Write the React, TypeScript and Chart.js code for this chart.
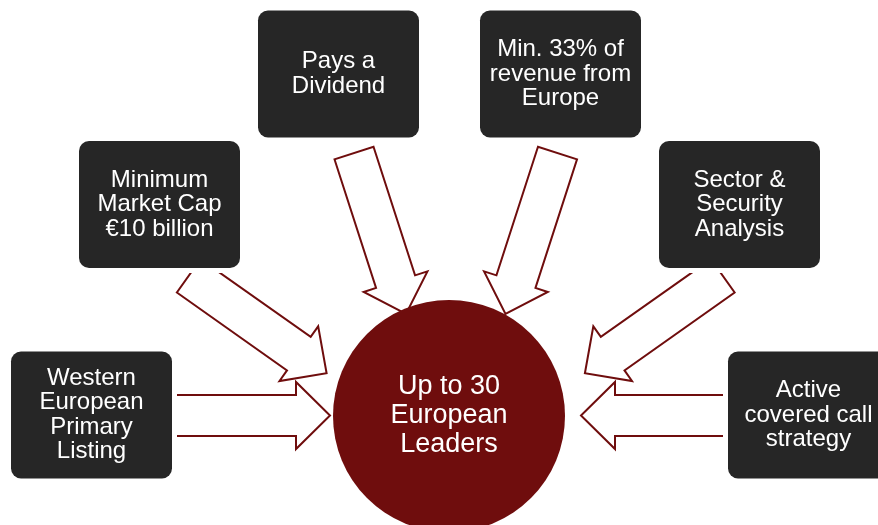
import React, { useEffect, useRef } from "react";
import { Chart, registerables } from "chart.js";

Chart.register(...registerables);

// Criteria boxes (labels and centres in diagram units)
const nodeLabels: string[][] = [
  ["Western", "European", "Primary", "Listing"],
  ["Minimum", "Market Cap", "€10 billion"],
  ["Pays a", "Dividend"],
  ["Min. 33% of", "revenue from", "Europe"],
  ["Sector &", "Security", "Analysis"],
  ["Active", "covered call", "strategy"],
];
const nodeX = [91.5, 159.5, 338.5, 560.5, 739.5, 808.5];
const nodeY = [415, 204.5, 74, 74, 204.5, 415];

// Arrows: tail -> tip
const arrowFromX = [160, 188.7, 354, 557.5, 722.8, 750];
const arrowFromY = [415.5, 275.8, 153, 153, 275.8, 415.5];
const arrowToX = [330, 326.6, 406, 505.5, 584.9, 581];
const arrowToY = [415.5, 373.3, 314, 314, 373.3, 415.5];

// Hub
const hubLabel = ["Up to 30", "European", "Leaders"];
const hubX = 449;
const hubY = 416;
const hubR = 116;

const BOX_W = 161;
const BOX_H = 127;
const SHAFT = 20.5;
const HEAD = 33.5;
const HEAD_LEN = 34;
const RED = "#6f0d0d";
const DARK = "#262626";
const FONT = "'Liberation Sans', Arial, Helvetica, sans-serif";

const diagramPlugin = {
  id: "diagram",
  afterDatasetsDraw(chart: any) {
    const ctx: CanvasRenderingContext2D = chart.ctx;
    const xs = chart.scales.x;
    const ys = chart.scales.y;
    const px = (v: number) => xs.getPixelForValue(v);
    const py = (v: number) => ys.getPixelForValue(v);
    const sx = (d: number) => Math.abs(xs.getPixelForValue(d) - xs.getPixelForValue(0));
    const sy = (d: number) => Math.abs(ys.getPixelForValue(d) - ys.getPixelForValue(0));

    ctx.save();
    // arrows
    for (let i = 0; i < arrowFromX.length; i++) {
      const tx = px(arrowFromX[i]), ty = py(arrowFromY[i]);
      const hx = px(arrowToX[i]), hy = py(arrowToY[i]);
      const len = Math.hypot(hx - tx, hy - ty);
      const ux = (hx - tx) / len, uy = (hy - ty) / len;
      const nx = -uy, ny = ux;
      const w = sx(SHAFT), h = sx(HEAD), L = sx(HEAD_LEN);
      const bx = hx - L * ux, by = hy - L * uy;
      ctx.beginPath();
      ctx.moveTo(tx + w * nx, ty + w * ny);
      ctx.lineTo(bx + w * nx, by + w * ny);
      ctx.lineTo(bx + h * nx, by + h * ny);
      ctx.lineTo(hx, hy);
      ctx.lineTo(bx - h * nx, by - h * ny);
      ctx.lineTo(bx - w * nx, by - w * ny);
      ctx.lineTo(tx - w * nx, ty - w * ny);
      ctx.closePath();
      ctx.fillStyle = "#ffffff";
      ctx.fill();
      ctx.lineWidth = 2;
      ctx.lineJoin = "miter";
      ctx.strokeStyle = RED;
      ctx.stroke();
    }

    // boxes
    for (let i = 0; i < nodeX.length; i++) {
      const cx = px(nodeX[i]), cy = py(nodeY[i]);
      const bw = sx(BOX_W), bh = sy(BOX_H);
      const x0 = cx - bw / 2, y0 = cy - bh / 2;
      ctx.beginPath();
      ctx.roundRect(x0, y0, bw, bh, 10);
      ctx.lineWidth = 10;
      ctx.strokeStyle = "#ffffff";
      ctx.stroke();
      ctx.fillStyle = DARK;
      ctx.fill();
      ctx.fillStyle = "#ffffff";
      ctx.font = `24px ${FONT}`;
      ctx.textAlign = "center";
      ctx.textBaseline = "middle";
      const lines = nodeLabels[i];
      const lh = 24.5;
      const start = cy - ((lines.length - 1) * lh) / 2;
      lines.forEach((t, k) => ctx.fillText(t, cx, start + k * lh));
    }

    // hub
    const cx = px(hubX), cy = py(hubY);
    ctx.beginPath();
    ctx.arc(cx, cy, sx(hubR), 0, Math.PI * 2);
    ctx.fillStyle = RED;
    ctx.fill();
    ctx.fillStyle = "#ffffff";
    ctx.font = `27px ${FONT}`;
    ctx.textAlign = "center";
    ctx.textBaseline = "middle";
    const lh = 29;
    const start = cy - lh;
    hubLabel.forEach((t, k) => ctx.fillText(t, cx, start + k * lh));
    ctx.restore();
  },
};

export default function App() {
  const ref = useRef<HTMLCanvasElement | null>(null);
  useEffect(() => {
    if (!ref.current) return;
    const chart = new Chart(ref.current, {
      type: "scatter",
      data: {
        datasets: [
          {
            label: "criteria",
            data: nodeX.map((x, i) => ({ x, y: nodeY[i] })),
            pointRadius: 0,
            pointHoverRadius: 0,
          },
          {
            label: "hub",
            data: [{ x: hubX, y: hubY }],
            pointRadius: 0,
            pointHoverRadius: 0,
          },
        ],
      },
      options: {
        animation: false,
        responsive: false,
        maintainAspectRatio: false,
        devicePixelRatio: 1,
        layout: { padding: 0 },
        events: [],
        plugins: { legend: { display: false }, tooltip: { enabled: false } },
        scales: {
          x: { type: "linear", min: 0, max: 878, display: false },
          y: { type: "linear", min: 0, max: 525, reverse: true, display: false },
        },
      },
      plugins: [diagramPlugin],
    });
    return () => chart.destroy();
  }, []);
  return (
    <div style={{ position: "absolute", left: 0, top: 0, width: 878, height: 525, background: "#ffffff" }}>
      <canvas ref={ref} width={878} height={525} style={{ width: 878, height: 525, display: "block" }} />
    </div>
  );
}
